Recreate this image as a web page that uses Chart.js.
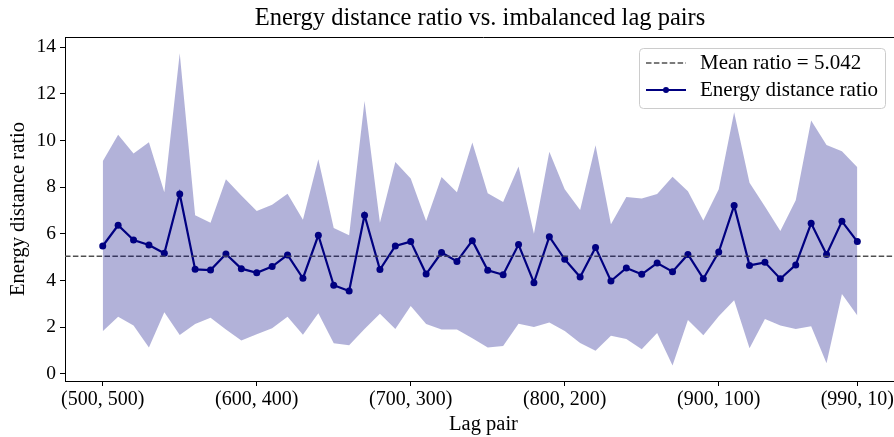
<!DOCTYPE html>
<html>
<head>
<meta charset="utf-8">
<script src="https://cdn.jsdelivr.net/npm/chart.js@4.4.1/dist/chart.umd.min.js"></script>
<style>
html, body { margin: 0; padding: 0; background: #fff; overflow: hidden; }
</style>
</head>
<body>
<!-- the axes box is a little wider than the window, so its right side is cut off -->
<canvas id="ratioChart" width="902" height="437"></canvas>
<script>
// lag pairs (first lag, second lag)
const lagPairs = [
    '(500, 500)', '(510, 490)', '(520, 480)', '(530, 470)', '(540, 460)',
    '(550, 450)', '(560, 440)', '(570, 430)', '(580, 420)', '(590, 410)',
    '(600, 400)', '(610, 390)', '(620, 380)', '(630, 370)', '(640, 360)',
    '(650, 350)', '(660, 340)', '(670, 330)', '(680, 320)', '(690, 310)',
    '(700, 300)', '(710, 290)', '(720, 280)', '(730, 270)', '(740, 260)',
    '(750, 250)', '(760, 240)', '(770, 230)', '(780, 220)', '(790, 210)',
    '(800, 200)', '(810, 190)', '(820, 180)', '(830, 170)', '(840, 160)',
    '(850, 150)', '(860, 140)', '(870, 130)', '(880, 120)', '(890, 110)',
    '(900, 100)', '(910, 90)', '(920, 80)', '(930, 70)', '(940, 60)',
    '(950, 50)', '(960, 40)', '(970, 30)', '(980, 20)', '(990, 10)'
];

const ratio = [
    5.48, 6.37, 5.74, 5.52, 5.17, 7.71, 4.48, 4.45, 5.14, 4.51,
    4.33, 4.60, 5.10, 4.10, 5.94, 3.80, 3.55, 6.80, 4.47, 5.48,
    5.67, 4.28, 5.20, 4.82, 5.71, 4.44, 4.25, 5.54, 3.91, 5.88,
    4.91, 4.15, 5.42, 3.98, 4.54, 4.27, 4.75, 4.38, 5.12, 4.08,
    5.22, 7.21, 4.65, 4.78, 4.08, 4.67, 6.45, 5.12, 6.54, 5.67
];

const ratioLow = [
    1.83, 2.45, 2.08, 1.13, 2.64, 1.67, 2.14, 2.41, 1.91, 1.43,
    1.70, 1.96, 2.45, 1.68, 2.60, 1.32, 1.23, 1.93, 2.58, 1.93,
    2.91, 2.14, 1.90, 1.90, 1.53, 1.13, 1.20, 2.15, 2.01, 2.21,
    1.84, 1.33, 1.00, 1.64, 1.50, 1.06, 1.76, 0.36, 2.31, 1.66,
    2.47, 3.16, 1.10, 2.36, 2.08, 1.93, 2.04, 0.46, 3.43, 2.51
];

const ratioHigh = [
    9.11, 10.24, 9.44, 9.92, 7.78, 13.73, 6.80, 6.48, 8.34, 7.64,
    6.98, 7.25, 7.72, 6.60, 9.19, 6.25, 5.94, 11.69, 6.48, 9.08,
    8.37, 6.55, 8.44, 7.78, 9.91, 7.74, 7.37, 8.89, 6.00, 9.52,
    7.91, 7.02, 9.79, 6.41, 7.58, 7.51, 7.71, 8.45, 7.82, 6.57,
    7.91, 11.21, 8.19, 7.17, 6.12, 7.44, 10.85, 9.81, 9.54, 8.85
];

const meanRatio = 5.042;
const xTickIndex = [0, 10, 20, 30, 40, 49];
const yTickValues = [0, 2, 4, 6, 8, 10, 12, 14];

const X_MIN = -2.45, X_MAX = 51.90;
const FONT = 'Liberation Serif';
const NAVY = '#000080';
const MEAN_COLOR = '#505050';

const toPoints = arr => arr.map((v, i) => ({ x: i, y: v }));

// title, top spine and the legend box inside the axes
const decorPlugin = {
    id: 'decor',
    afterDraw(chart) {
        const ctx = chart.ctx;
        const a = chart.chartArea;
        ctx.save();

        ctx.strokeStyle = '#000';
        ctx.lineWidth = 1;
        ctx.beginPath();
        ctx.moveTo(a.left, a.top + 0.5);
        ctx.lineTo(a.right, a.top + 0.5);
        ctx.stroke();

        ctx.fillStyle = '#000';
        ctx.font = '24.5px "' + FONT + '"';
        ctx.textAlign = 'center';
        ctx.textBaseline = 'middle';
        ctx.fillText('Energy distance ratio vs. imbalanced lag pairs', 480, 19);

        // legend
        const bx = 639, by = 48, bw = 246, bh = 60, r = 4;
        ctx.beginPath();
        ctx.roundRect(bx + 0.5, by + 0.5, bw, bh, r);
        ctx.fillStyle = 'rgba(255,255,255,0.8)';
        ctx.fill();
        ctx.strokeStyle = '#cccccc';
        ctx.stroke();

        ctx.font = '21px "' + FONT + '"';
        ctx.textAlign = 'left';
        ctx.fillStyle = '#000';

        ctx.strokeStyle = MEAN_COLOR;
        ctx.lineWidth = 1.5;
        ctx.setLineDash([5.5, 2.4]);
        ctx.beginPath();
        ctx.moveTo(646, 63);
        ctx.lineTo(686, 63);
        ctx.stroke();
        ctx.setLineDash([]);
        ctx.fillText('Mean ratio = ' + meanRatio.toFixed(3), 700, 63);

        ctx.strokeStyle = NAVY;
        ctx.lineWidth = 2.2;
        ctx.beginPath();
        ctx.moveTo(646, 90);
        ctx.lineTo(686, 90);
        ctx.stroke();
        ctx.fillStyle = NAVY;
        ctx.beginPath();
        ctx.arc(666, 90, 3, 0, Math.PI * 2);
        ctx.fill();
        ctx.fillStyle = '#000';
        ctx.fillText('Energy distance ratio', 700, 90);

        ctx.restore();
    }
};

new Chart(document.getElementById('ratioChart'), {
    type: 'line',
    data: {
        datasets: [
            {
                label: 'upper',
                data: toPoints(ratioHigh),
                fill: 1,
                backgroundColor: 'rgba(0, 0, 128, 0.3)',
                borderColor: 'rgba(0, 0, 0, 0)',
                borderWidth: 0,
                pointRadius: 0,
            },
            {
                label: 'lower',
                data: toPoints(ratioLow),
                fill: false,
                borderColor: 'rgba(0, 0, 0, 0)',
                borderWidth: 0,
                pointRadius: 0,
            },
            {
                label: 'Mean ratio = ' + meanRatio.toFixed(3),
                data: [{ x: X_MIN, y: meanRatio }, { x: X_MAX, y: meanRatio }],
                borderColor: MEAN_COLOR,
                borderWidth: 1.5,
                borderDash: [5.5, 2.4],
                pointRadius: 0,
                fill: false,
            },
            {
                label: 'Energy distance ratio',
                data: toPoints(ratio),
                borderColor: NAVY,
                backgroundColor: NAVY,
                borderWidth: 2.2,
                pointRadius: 3.5,
                pointBackgroundColor: NAVY,
                pointBorderWidth: 0,
                fill: false,
                tension: 0,
            }
        ]
    },
    options: {
        responsive: false,
        animation: false,
        devicePixelRatio: 1,
        layout: { autoPadding: false, padding: { top: 37, right: 0, bottom: 0, left: 0 } },
        plugins: {
            legend: { display: false },
            title: { display: false },
            tooltip: { enabled: false },
        },
        scales: {
            x: {
                type: 'linear',
                min: X_MIN,
                max: X_MAX,
                afterBuildTicks: s => { s.ticks = xTickIndex.map(v => ({ value: v })); },
                afterFit: s => { s.height = 56; s.paddingLeft = 0; s.paddingRight = 0; },
                ticks: {
                    callback: v => lagPairs[v],
                    autoSkip: false,
                    maxRotation: 0,
                    color: '#000',
                    padding: 2,
                    font: { family: FONT, size: 20 },
                },
                grid: { drawOnChartArea: false, tickLength: 5, color: '#000' },
                border: { color: '#000', width: 1 },
                title: {
                    display: true,
                    text: 'Lag pair',
                    color: '#000',
                    font: { family: FONT, size: 20.5 },
                    padding: { top: 0, bottom: 0 },
                },
            },
            y: {
                min: -0.30,
                max: 14.43,
                afterBuildTicks: s => { s.ticks = yTickValues.map(v => ({ value: v })); },
                afterFit: s => { s.width = 65; s.paddingTop = 0; s.paddingBottom = 0; },
                ticks: {
                    color: '#000',
                    padding: 4,
                    font: { family: FONT, size: 19.5 },
                },
                grid: { drawOnChartArea: false, tickLength: 5, color: '#000' },
                border: { color: '#000', width: 1 },
                title: {
                    display: true,
                    text: 'Energy distance ratio',
                    color: '#000',
                    font: { family: FONT, size: 20.5 },
                    padding: { top: 6, bottom: 0 },
                },
            },
        },
    },
    plugins: [decorPlugin],
});
</script>
</body>
</html>
